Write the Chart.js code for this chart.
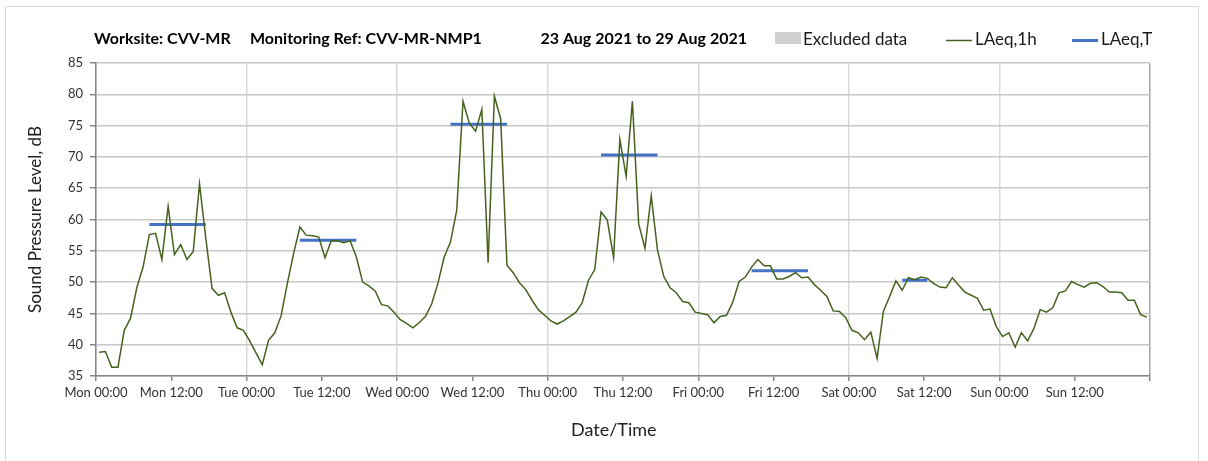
<!DOCTYPE html>
<html><head><meta charset="utf-8">
<script src="https://cdn.jsdelivr.net/npm/chart.js@4.4.0/dist/chart.umd.min.js"></script>
<style>html,body{margin:0;padding:0;background:#fff;}#wrap{width:1208px;height:461px;position:relative;}</style>
</head><body><div id="wrap"><canvas id="c" width="1208" height="461"></canvas></div>
<script>
const titleParts = ['Worksite: CVV-MR', 'Monitoring Ref: CVV-MR-NMP1', '23 Aug 2021 to 29 Aug 2021'];
const legendLabels = ['Excluded data', 'LAeq,1h', 'LAeq,T'];
const xTickLabels = ['Mon 00:00','Mon 12:00','Tue 00:00','Tue 12:00','Wed 00:00','Wed 12:00','Thu 00:00','Thu 12:00','Fri 00:00','Fri 12:00','Sat 00:00','Sat 12:00','Sun 00:00','Sun 12:00',''];
const yTicks = [35,40,45,50,55,60,65,70,75,80,85];
const xTitle = 'Date/Time';
const yTitle = 'Sound Pressure Level, dB';

// Hourly LAeq,1h, Mon 00:00 .. Sun 23:00 (one value per hour)
const laeq1h = [
 38.8,38.9,36.4,36.4,42.3,44.2,49.1,52.4,57.6,57.8,53.6,62.1,54.4,56.0,53.6,54.9,65.7,57.0,49.0,47.9,48.3,45.2,42.7,42.3,
 40.6,38.7,36.8,40.7,41.9,44.6,49.8,54.6,58.8,57.5,57.4,57.2,53.9,56.6,56.6,56.3,56.6,54.0,50.0,49.4,48.6,46.4,46.2,45.2,
 44.0,43.4,42.7,43.5,44.5,46.5,49.8,54.0,56.4,61.5,78.9,75.4,74.1,77.6,53.1,79.7,76.1,52.7,51.5,49.9,48.8,47.1,45.6,44.7,
 43.8,43.3,43.8,44.5,45.2,46.7,50.3,52.0,61.2,59.9,53.9,72.8,66.9,78.9,59.3,55.4,63.8,55.1,50.9,49.1,48.3,46.9,46.7,45.2,
 45.0,44.8,43.5,44.5,44.7,46.8,50.1,50.8,52.4,53.6,52.6,52.6,50.5,50.5,50.9,51.5,50.7,50.8,49.6,48.7,47.7,45.4,45.3,44.3,
 42.3,41.9,40.8,42.0,37.8,45.3,47.7,50.2,48.7,50.7,50.4,50.8,50.6,49.8,49.2,49.1,50.7,49.5,48.4,47.9,47.4,45.5,45.7,42.9,
 41.3,41.9,39.6,41.9,40.6,42.6,45.6,45.2,45.9,48.3,48.6,50.1,49.6,49.2,49.8,49.9,49.3,48.4,48.4,48.3,47.1,47.1,44.8,44.4
];
// LAeq,T periods (hours from Mon 00:00, first and last hourly interval mid-points)
const periodStartHour = [8.5, 32.5, 56.5, 80.5, 104.5, 128.5];
const periodEndHour   = [17.5, 41.5, 65.5, 89.5, 113.5, 132.5];
const laeqT = [59.2, 56.7, 75.2, 70.3, 51.8, 50.3];

const lineData = laeq1h.map((v, i) => ({ x: i + 0.5, y: v }));
const tData = [];
laeqT.forEach((v, i) => {
  tData.push({ x: periodStartHour[i], y: v });
  tData.push({ x: periodEndHour[i], y: v });
  tData.push({ x: periodEndHour[i] + 1, y: null });
});

const GREEN = '#45621f';
const BLUE = '#4472c4';
const FONT = 'Lato';

const decor = {
  id: 'decor',
  beforeDraw(chart) {
    const ctx = chart.ctx;
    ctx.save();
    ctx.fillStyle = '#fff';
    ctx.fillRect(0, 0, chart.width, chart.height);
    ctx.strokeStyle = '#d9d9d9';
    ctx.lineWidth = 1;
    ctx.strokeRect(5.5, 6.5, 1193, 480);
    ctx.restore();
  },
  afterDraw(chart) {
    const ctx = chart.ctx;
    ctx.save();
    ctx.textBaseline = 'alphabetic';
    ctx.fillStyle = '#000';
    ctx.font = 'bold 16px ' + FONT;
    ctx.textAlign = 'left';
    ctx.fillText(titleParts[0], 94, 44);
    ctx.fillText(titleParts[1], 250, 44);
    ctx.textAlign = 'right';
    ctx.fillText(titleParts[2], 747, 44);
    ctx.textAlign = 'left';
    ctx.font = '17px ' + FONT;
    // Excluded data
    ctx.fillStyle = '#d0d0d0';
    ctx.fillRect(775, 32, 26, 12);
    ctx.fillStyle = '#1a1a1a';
    ctx.fillText(legendLabels[0], 803, 45);
    // LAeq,1h
    ctx.strokeStyle = GREEN; ctx.lineWidth = 1.5;
    ctx.beginPath(); ctx.moveTo(946, 40.5); ctx.lineTo(972, 40.5); ctx.stroke();
    ctx.fillText(legendLabels[1], 975, 45);
    // LAeq,T
    ctx.strokeStyle = BLUE; ctx.lineWidth = 3;
    ctx.beginPath(); ctx.moveTo(1072, 40.5); ctx.lineTo(1098, 40.5); ctx.stroke();
    ctx.fillText(legendLabels[2], 1101, 45);
    ctx.restore();
  }
};

new Chart(document.getElementById('c'), {
  type: 'line',
  data: {
    datasets: [
      { label: legendLabels[1], data: lineData, borderColor: GREEN, borderWidth: 1.5, pointRadius: 0, tension: 0, fill: false },
      { label: legendLabels[2], data: tData, borderColor: BLUE, borderWidth: 3, pointRadius: 0, spanGaps: false, fill: false }
    ]
  },
  options: {
    responsive: false,
    animation: false,
    devicePixelRatio: 1,
    layout: { padding: { top: 63, right: 58, left: 0, bottom: 0 } },
    plugins: { legend: { display: false }, tooltip: { enabled: false }, title: { display: false } },
    scales: {
      x: {
        type: 'linear', min: 0, max: 168,
        afterFit(s) { s.height = 85; },
        ticks: {
          stepSize: 12, autoSkip: false, maxRotation: 0, minRotation: 0, padding: 4,
          color: '#333', font: { family: FONT, size: 13 },
          callback: (v) => xTickLabels[Math.round(v / 12)]
        },
        grid: {
          color: (c) => {
            const v = c.tick ? c.tick.value : 0;
            if (v === 168) return '#a6a6a6';
            return (v % 24 === 0) ? '#d9d9d9' : 'rgba(0,0,0,0)';
          },
          lineWidth: 1.5,
          tickColor: '#868686', tickLength: 5, drawTicks: true
        },
        border: { color: '#868686', width: 1.5 },
        title: { display: true, text: xTitle + '    ', color: '#222', font: { family: FONT, size: 18 }, padding: { top: 0, bottom: 20 } }
      },
      y: {
        min: 35, max: 85,
        afterFit(s) { s.width = 96; },
        afterBuildTicks(s) { s.ticks = yTicks.map(v => ({ value: v })); },
        ticks: { padding: 7, color: '#333', font: { family: FONT, size: 13 } },
        grid: { color: '#c8c8c8', lineWidth: 1.5, tickColor: '#868686', tickLength: 6 },
        border: { color: '#868686', width: 1.5 },
        title: { display: true, text: yTitle, color: '#222', font: { family: FONT, size: 17 }, padding: { top: 25 } }
      }
    }
  },
  plugins: [decor]
});
</script></body></html>
